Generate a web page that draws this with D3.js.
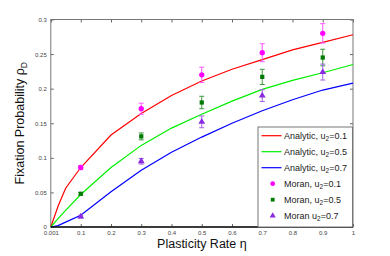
<!DOCTYPE html>
<html>
<head>
<meta charset="utf-8">
<script src="https://cdn.jsdelivr.net/npm/d3@7"></script>
<style>
  body { margin: 0; background: #fff; }
  svg text { font-family: "Liberation Sans", Arial, sans-serif; }
  .tick text { fill: #444; font-size: 6px; }
</style>
</head>
<body>
<div id="chart"></div>
<script>
// analytic curves
const eta = [0.001, 0.025, 0.05, 0.1, 0.2, 0.3, 0.4, 0.5, 0.6, 0.7, 0.8, 0.9, 1];
const analytic01 = [0, 0.030, 0.056, 0.086, 0.133, 0.164, 0.190, 0.211, 0.228, 0.242, 0.256, 0.267, 0.278];
const analytic05 = [0, 0.012, 0.024, 0.047, 0.086, 0.118, 0.143, 0.163, 0.182, 0.199, 0.212, 0.223, 0.235];
const analytic07 = [0, 0.002, 0.007, 0.017, 0.051, 0.082, 0.108, 0.130, 0.150, 0.168, 0.184, 0.198, 0.208];

// simulation points
const etaSim = [0.1, 0.3, 0.5, 0.7, 0.9];
const moran01 = [0.086, 0.171, 0.220, 0.252, 0.280];
const moran01Err = [0.003, 0.008, 0.011, 0.013, 0.014];
const moran05 = [0.048, 0.131, 0.180, 0.217, 0.245];
const moran05Err = [0.002, 0.005, 0.009, 0.011, 0.012];
const moran07 = [0.015, 0.095, 0.152, 0.190, 0.224];
const moran07Err = [0.002, 0.004, 0.0085, 0.0085, 0.0115];

const xTicks = [0.001, 0.1, 0.2, 0.3, 0.4, 0.5, 0.6, 0.7, 0.8, 0.9, 1];
const yTicks = [0, 0.05, 0.1, 0.15, 0.2, 0.25, 0.3];

const W = 390, H = 256;
const margin = {top: 19.5, right: 37, bottom: 29, left: 50.8};
const width = W - margin.left - margin.right;
const height = H - margin.top - margin.bottom;

const svg = d3.select("#chart").append("svg")
  .attr("width", W).attr("height", H);
const g = svg.append("g")
  .attr("transform", "translate(" + margin.left + "," + margin.top + ")");

const x = d3.scaleLinear().domain([0.001, 1]).range([0, width]);
const y = d3.scaleLinear().domain([0, 0.3]).range([height, 0]);

const fmt = d => d === 0.001 ? "0.001" : String(d);

// axes with inward ticks
function styleAxis(sel) {
  sel.select(".domain").remove();
  sel.selectAll(".tick line").attr("stroke", "#666");
}
g.append("g").attr("transform", "translate(0," + height + ")")
  .call(d3.axisBottom(x).tickValues(xTicks).tickFormat(fmt).tickSizeInner(-3).tickSizeOuter(0).tickPadding(4))
  .call(styleAxis);
g.append("g")
  .call(d3.axisTop(x).tickValues(xTicks).tickFormat("").tickSizeInner(-3).tickSizeOuter(0))
  .call(styleAxis);
g.append("g")
  .call(d3.axisLeft(y).tickValues(yTicks).tickFormat(d => String(d)).tickSizeInner(-3).tickSizeOuter(0).tickPadding(4))
  .call(styleAxis);
g.append("g").attr("transform", "translate(" + width + ",0)")
  .call(d3.axisRight(y).tickValues(yTicks).tickFormat("").tickSizeInner(-3).tickSizeOuter(0))
  .call(styleAxis);

// box
g.append("rect").attr("width", width).attr("height", height)
  .attr("fill", "none").attr("stroke", "#777").attr("stroke-width", 1);

// analytic lines
const line = d3.line().x(d => x(d[0])).y(d => y(d[1]));
const curves = [
  {vals: analytic01, color: "#ff0000"},
  {vals: analytic05, color: "#00ee00"},
  {vals: analytic07, color: "#0000ff"}
];
curves.forEach(c => {
  g.append("path")
    .datum(eta.map((e, i) => [e, c.vals[i]]))
    .attr("d", line)
    .attr("fill", "none")
    .attr("stroke", c.color)
    .attr("stroke-width", 1.2);
});

// simulation markers with error bars
const sims = [
  {vals: moran01, err: moran01Err, color: "#ff00ff", bar: "#ff55ff", shape: d3.symbolCircle, size: 22},
  {vals: moran05, err: moran05Err, color: "#007a00", bar: "#3c9a3c", shape: d3.symbolSquare, size: 18},
  {vals: moran07, err: moran07Err, color: "#8a2be2", bar: "#a060e8", shape: d3.symbolTriangle, size: 20}
];
sims.forEach(s => {
  const pts = etaSim.map((e, i) => ({e: e, v: s.vals[i], err: s.err[i]}));
  const eb = g.append("g").attr("stroke", s.bar).attr("stroke-width", 1);
  pts.forEach(p => {
    const cx = x(p.e), y0 = y(p.v - p.err), y1 = y(p.v + p.err);
    eb.append("line").attr("x1", cx).attr("x2", cx).attr("y1", y0).attr("y2", y1);
    eb.append("line").attr("x1", cx - 2.5).attr("x2", cx + 2.5).attr("y1", y0).attr("y2", y0);
    eb.append("line").attr("x1", cx - 2.5).attr("x2", cx + 2.5).attr("y1", y1).attr("y2", y1);
  });
  g.selectAll(null).data(pts).enter().append("path")
    .attr("d", d3.symbol().type(s.shape).size(s.size))
    .attr("transform", d => "translate(" + x(d.e) + "," + y(d.v) + ")")
    .attr("fill", s.color);
});

// bottom axis line drawn dark
g.append("line").attr("x1", 0).attr("x2", width).attr("y1", height).attr("y2", height)
  .attr("stroke", "#111").attr("stroke-width", 1.5);

// legend
const legendNames = ["Analytic, u", "Analytic, u", "Analytic, u", "Moran, u", "Moran, u", "Moran u"];
const legendVals = ["=0.1", "=0.5", "=0.7", "=0.1", "=0.5", "=0.7"];
const lg = svg.append("g").attr("transform", "translate(258,127)");
lg.append("rect").attr("width", 94.5).attr("height", 100)
  .attr("fill", "#fff").attr("stroke", "#777").attr("stroke-width", 1);
legendNames.forEach((name, i) => {
  const ry = 8.7 + i * 16;
  if (i < 3) {
    lg.append("line").attr("x1", 3.5).attr("x2", 23.5).attr("y1", ry).attr("y2", ry)
      .attr("stroke", curves[i].color).attr("stroke-width", 1.2);
  } else {
    const s = sims[i - 3];
    lg.append("path").attr("d", d3.symbol().type(s.shape).size(s.size * 0.8))
      .attr("transform", "translate(14.7," + ry + ")").attr("fill", s.color);
  }
  const t = lg.append("text").attr("x", 26).attr("y", ry + 3)
    .attr("font-size", 9).attr("fill", "#222");
  t.append("tspan").text(name);
  t.append("tspan").attr("font-size", 6.5).attr("dy", 2).text("2");
  t.append("tspan").attr("dy", -2).text(legendVals[i]);
});

// axis titles
svg.append("text")
  .attr("x", margin.left + width / 2).attr("y", 248)
  .attr("text-anchor", "middle").attr("font-size", 12.5).attr("fill", "#111")
  .text("Plasticity Rate η");

const yl = svg.append("text")
  .attr("transform", "translate(24," + (margin.top + height / 2) + ") rotate(-90)")
  .attr("text-anchor", "middle").attr("font-size", 12.5).attr("fill", "#111");
yl.append("tspan").text("Fixation Probability ρ");
yl.append("tspan").attr("font-size", 8.5).attr("dy", 3).text("D");
</script>
</body>
</html>
